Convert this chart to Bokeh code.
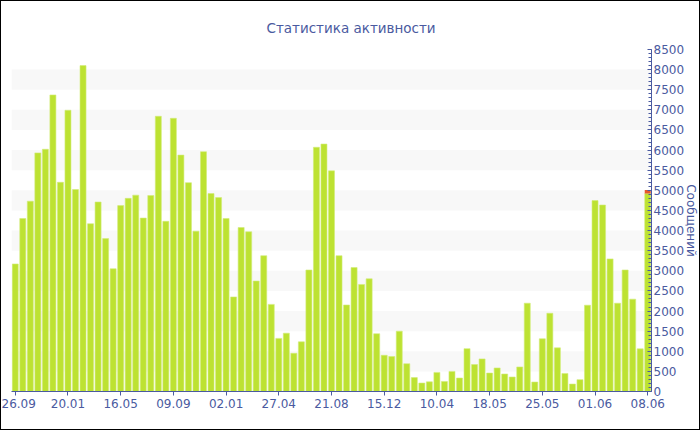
import numpy as np
from bokeh.plotting import figure
from bokeh.models import Range1d, FixedTicker, SingleIntervalTicker, Grid
from bokeh.embed import file_html
from bokeh.resources import INLINE

# Weekly message counts
values = [3170, 4300, 4730, 5930, 6020, 7370, 5200, 6990, 5020, 8100,
          4170, 4710, 3800, 3050, 4620, 4800, 4880, 4310, 4870, 6840,
          4230, 6790, 5875, 5190, 3985, 5960, 4920, 4820, 4300, 2350,
          4075, 3970, 2745, 3375, 2165, 1320, 1450, 950, 1235, 3020,
          6070, 6150, 5485, 3375, 2150, 3080, 2660, 2800, 1435, 900,
          870, 1500, 690, 345, 210, 240, 475, 250, 500, 335,
          1065, 670, 810, 460, 585, 435, 360, 610, 2195, 235,
          1310, 1945, 1085, 450, 185, 295, 2145, 4745, 4635, 3295,
          2195, 3020, 2295, 1060, 4920]
# extra (red) portion on top of the bars
extra = [0] * 84 + [90]

tick_labels = ["26.09", "20.01", "16.05", "09.09", "02.01", "27.04", "21.08",
               "15.12", "10.04", "18.05", "25.05", "01.06", "08.06"]
y_max = 8500
y_title = "Сообщений"

n = len(values)
xs = list(range(n))
tick_pos = list(range(0, n, 7))

TEXT = "#4a5aa0"
FONT = "DejaVu Sans"

p = figure(width=700, height=430, output_backend="svg", toolbar_location=None,
           x_range=Range1d(-0.5, n - 0.5), y_range=Range1d(0, y_max),
           y_axis_location="right", title="Статистика активности",
           min_border_left=10, min_border_top=48, min_border_bottom=40,
           min_border_right=0)
p.styles = {"border": "1px solid black"}
p.outline_line_color = None
p.background_fill_color = "white"

p.title.align = "left"
p.title.offset = 255
p.title.standoff = 28
p.title.text_font = FONT
p.title.text_font_size = "13.5px"
p.title.text_font_style = "normal"
p.title.text_color = TEXT

bottoms = values
tops = [v + e for v, e in zip(values, extra)]
p.vbar(x=xs, top=values, width=0.8, fill_color="#bde232", line_color="#d2ec78",
       line_width=0.6)
p.vbar(x=xs, bottom=bottoms, top=tops, width=0.8, fill_color="#e5582b",
       line_color=None)

# grid bands
p.xgrid.visible = False
p.ygrid.visible = False
band_ticks = list(range(500, 9000, 500))
bands = Grid(dimension=1, ticker=FixedTicker(ticks=band_ticks),
             grid_line_color=None, band_fill_color="#f8f8f8", band_fill_alpha=1.0)
p.add_layout(bands)

xa = p.xaxis[0]
xa.ticker = FixedTicker(ticks=tick_pos)
xa.major_label_overrides = {pos: lab for pos, lab in zip(tick_pos, tick_labels)}
xa.minor_tick_line_color = None
xa.major_tick_in = 0
xa.major_tick_out = 4
xa.axis_line_color = TEXT
xa.major_tick_line_color = TEXT
xa.major_label_text_color = TEXT
xa.major_label_text_font = FONT
xa.major_label_text_font_size = "12px"
xa.major_label_standoff = 3

ya = p.yaxis[0]
ya.ticker = SingleIntervalTicker(interval=500, num_minor_ticks=5)
ya.axis_label = y_title
ya.axis_label_text_font = FONT
ya.axis_label_text_font_size = "12px"
ya.axis_label_text_font_style = "normal"
ya.axis_label_text_color = TEXT
ya.axis_label_standoff = -3
ya.axis_line_color = TEXT
ya.major_tick_line_color = TEXT
ya.minor_tick_line_color = TEXT
ya.major_tick_in = 4
ya.major_tick_out = 0
ya.minor_tick_in = 3
ya.minor_tick_out = 0
ya.major_label_text_color = TEXT
ya.major_label_text_font = FONT
ya.major_label_text_font_size = "12px"
ya.major_label_standoff = 2

open("out.html", "w").write(file_html(p, INLINE))
